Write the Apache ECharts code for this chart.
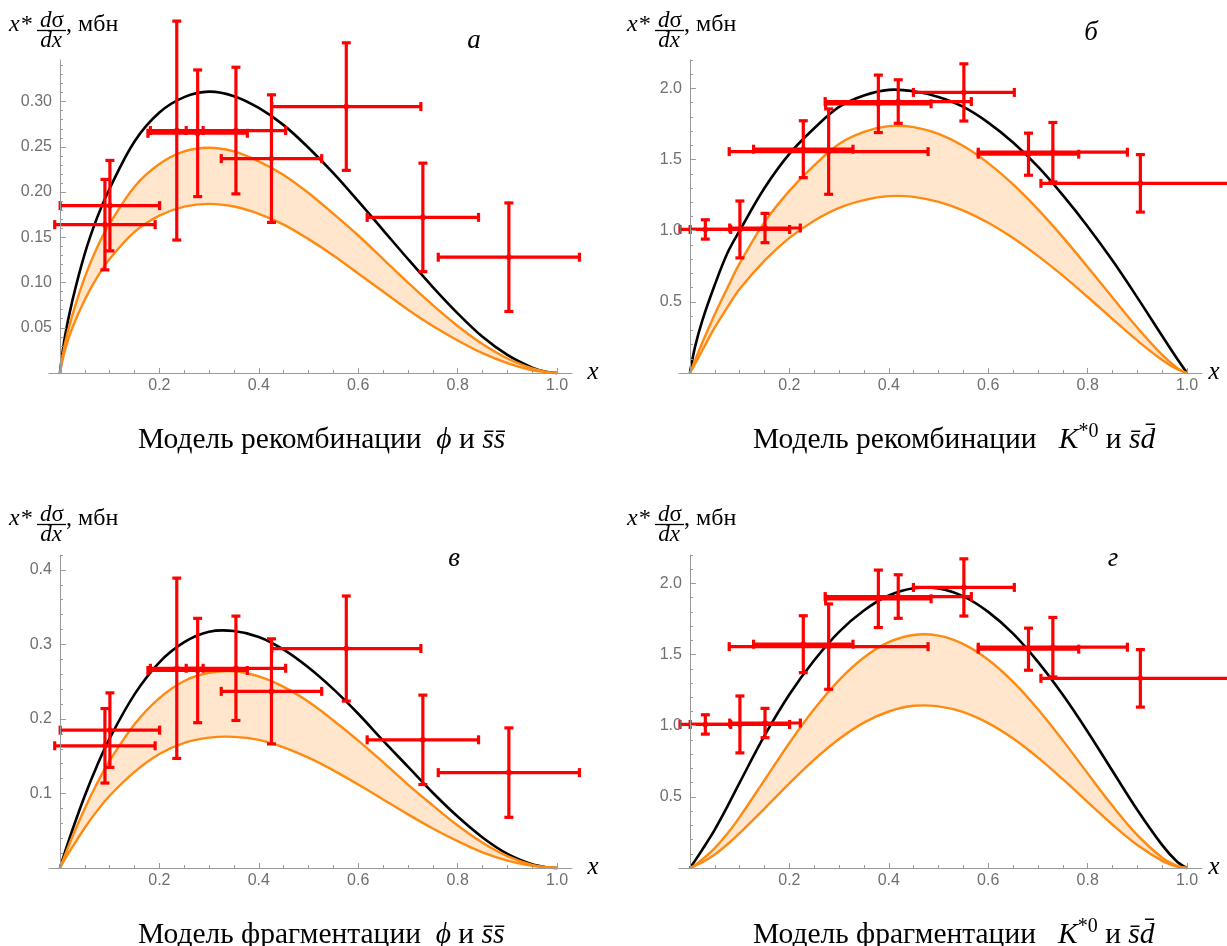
<!DOCTYPE html>
<html>
<head>
<meta charset="utf-8">
<script src="https://cdn.jsdelivr.net/npm/echarts@6.0.0/dist/echarts.min.js"></script>
<style>
  html, body { margin: 0; padding: 0; background: #fff; }
  #chart { width: 1227px; height: 946px; }
</style>
</head>
<body>
<div id="chart"></div>
<script>
const xs = [0, 0.01, 0.025, 0.05, 0.075, 0.1, 0.15, 0.2, 0.25, 0.3, 0.35, 0.4, 0.45,
  0.5, 0.55, 0.6, 0.65, 0.7, 0.75, 0.8, 0.85, 0.9, 0.95, 0.98, 1.0];

// а: рекомбинация, phi
const blackA = [0, 0.040, 0.080, 0.132, 0.172, 0.204, 0.256, 0.288, 0.305, 0.311, 0.306, 0.293, 0.274,
  0.249, 0.221, 0.190, 0.158, 0.126, 0.095, 0.066, 0.040, 0.020, 0.006, 0.001, 0];
const upperA = [0, 0.032, 0.064, 0.106, 0.139, 0.165, 0.206, 0.231, 0.245, 0.249, 0.245, 0.234, 0.219,
  0.199, 0.176, 0.152, 0.126, 0.100, 0.075, 0.052, 0.032, 0.016, 0.005, 0.001, 0];
const lowerA = [0, 0.025, 0.050, 0.081, 0.106, 0.126, 0.156, 0.174, 0.184, 0.187, 0.184, 0.176, 0.164,
  0.148, 0.130, 0.110, 0.090, 0.070, 0.052, 0.036, 0.022, 0.011, 0.003, 0.001, 0];

// б: рекомбинация, K*0
const blackB = [0, 0.18, 0.37, 0.62, 0.84, 1.00, 1.30, 1.54, 1.72, 1.87, 1.95, 1.99, 1.98,
  1.94, 1.87, 1.76, 1.62, 1.45, 1.25, 1.03, 0.79, 0.53, 0.26, 0.10, 0];
const upperB = [0, 0.087, 0.214, 0.413, 0.596, 0.77, 1.06, 1.28, 1.46, 1.61, 1.695, 1.735, 1.728,
  1.680, 1.595, 1.475, 1.325, 1.150, 0.955, 0.745, 0.530, 0.318, 0.127, 0.036, 0];
const lowerB = [0, 0.063, 0.16, 0.32, 0.46, 0.59, 0.79, 0.95, 1.07, 1.16, 1.215, 1.243, 1.238,
  1.203, 1.142, 1.056, 0.949, 0.823, 0.684, 0.534, 0.379, 0.228, 0.091, 0.026, 0];

// в: фрагментация, phi
const blackV = [0, 0.021, 0.051, 0.097, 0.138, 0.174, 0.233, 0.276, 0.303, 0.317, 0.318, 0.310, 0.293,
  0.269, 0.240, 0.207, 0.171, 0.136, 0.101, 0.069, 0.041, 0.019, 0.005, 0.001, 0];
const upperV = [0, 0.017, 0.042, 0.080, 0.114, 0.144, 0.193, 0.228, 0.251, 0.262, 0.264, 0.257, 0.243,
  0.223, 0.198, 0.171, 0.142, 0.112, 0.084, 0.057, 0.034, 0.016, 0.004, 0.001, 0];
const lowerV = [0, 0.012, 0.028, 0.054, 0.077, 0.097, 0.129, 0.153, 0.168, 0.175, 0.176, 0.172, 0.162,
  0.148, 0.131, 0.112, 0.092, 0.072, 0.053, 0.036, 0.021, 0.010, 0.003, 0.001, 0];

// г: фрагментация, K*0
const blackG = [0, 0.05, 0.13, 0.27, 0.43, 0.60, 0.93, 1.22, 1.46, 1.66, 1.81, 1.915, 1.966,
  1.964, 1.909, 1.800, 1.647, 1.449, 1.217, 0.958, 0.682, 0.408, 0.161, 0.044, 0];
const upperG = [0, 0.02, 0.06, 0.14, 0.24, 0.358, 0.618, 0.879, 1.117, 1.321, 1.480, 1.587, 1.638,
  1.633, 1.574, 1.464, 1.308, 1.116, 0.897, 0.665, 0.437, 0.231, 0.072, 0.015, 0];
const lowerG = [0, 0.015, 0.04, 0.095, 0.165, 0.245, 0.418, 0.595, 0.762, 0.907, 1.022, 1.100, 1.140,
  1.136, 1.095, 1.018, 0.910, 0.776, 0.624, 0.463, 0.304, 0.161, 0.050, 0.010, 0];

// experimental points, phi
const phiX = [0.0905, 0.1005, 0.235, 0.277, 0.354, 0.4255, 0.576, 0.730, 0.903];
const phiY = [0.164, 0.185, 0.268, 0.265, 0.268, 0.237, 0.2945, 0.172, 0.128];
const phiXErr = [0.101, 0.100, 0.053, 0.100, 0.100, 0.101, 0.150, 0.112, 0.142];
const phiYErr = [0.050, 0.050, 0.121, 0.070, 0.070, 0.0705, 0.0705, 0.060, 0.060];

// experimental points, K*0
const kX = [0.031, 0.1005, 0.151, 0.228, 0.279, 0.379, 0.419, 0.551, 0.681, 0.730, 0.906];
const kY = [1.009, 1.009, 1.019, 1.573, 1.556, 1.892, 1.908, 1.972, 1.538, 1.552, 1.333];
const kXErr = [0.051, 0.100, 0.071, 0.100, 0.200, 0.106, 0.147, 0.1015, 0.101, 0.150, 0.200];
const kYErr = [0.068, 0.200, 0.103, 0.200, 0.300, 0.202, 0.153, 0.201, 0.148, 0.209, 0.202];

// tick labels
const xMajor = [0.2, 0.4, 0.6, 0.8, 1.0];
const yMajorA = [0.05, 0.10, 0.15, 0.20, 0.25, 0.30];
const yMajorB = [0.5, 1.0, 1.5, 2.0];
const yMajorV = [0.1, 0.2, 0.3, 0.4];
const yMajorG = [0.5, 1.0, 1.5, 2.0];

const X_MIN = -0.022;
const X_MAX = 1.03;
const GRID_W = 523;
const GRID_H = 313;
// the y axis sits at x = 0, a bit right of the grid's left edge
const Y_SHIFT = -(0 - X_MIN) / (X_MAX - X_MIN) * GRID_W;
const AXIS = "#9a9a9a";
const LABEL = "#707070";
const RED = "#ff0000";
const ORANGE = "#ff8a12";
const FILL = "#ffe6cc";
const SMOOTH = 0.35;
const CAP = 4.5;
const SERIF = '"Liberation Serif", "Times New Roman", serif';
const SANS = '"Liberation Sans", Arial, sans-serif';

function ticks(step, max) {
  let res = [];
  for (let k = 1; k * step <= max + 1e-9; k++) {
    res.push(Math.round(k * step * 1000) / 1000);
  }
  return res;
}

function bars(x, y, dx, dy) {
  return x.map((v, i) => [v, y[i], dx[i], dy[i]]);
}

const panels = [
  { left: 49, top: 60, ymax: 0.346, yMajor: yMajorA, yStep: 0.01, digits: 2,
    black: blackA, upper: upperA, lower: lowerA, pts: bars(phiX, phiY, phiXErr, phiYErr) },
  { left: 679, top: 60, ymax: 2.2, yMajor: yMajorB, yStep: 0.1, digits: 1,
    black: blackB, upper: upperB, lower: lowerB, pts: bars(kX, kY, kXErr, kYErr) },
  { left: 49, top: 555, ymax: 0.42, yMajor: yMajorV, yStep: 0.02, digits: 1,
    black: blackV, upper: upperV, lower: lowerV, pts: bars(phiX, phiY, phiXErr, phiYErr) },
  { left: 679, top: 555, ymax: 2.2, yMajor: yMajorG, yStep: 0.1, digits: 1,
    black: blackG, upper: upperG, lower: lowerG, pts: bars(kX, kY, kXErr, kYErr) }
];

// band + three model curves of one panel, all through the axis scales
function curvesRenderer(p) {
  return function (params, api) {
    let pts = arr => xs.map((x, k) => api.coord([x, arr[k]]));
    let up = pts(p.upper);
    let lo = pts(p.lower);
    let band = up.concat(lo.slice(1, -1).reverse());
    let line = (points, color, width) => ({
      type: "polyline", shape: { points: points, smooth: SMOOTH },
      style: { stroke: color, lineWidth: width, fill: null }
    });
    return {
      type: "group",
      children: [
        { type: "polygon", shape: { points: band, smooth: SMOOTH }, style: { fill: FILL } },
        line(pts(p.black), "#000", 2.6),
        line(up, ORANGE, 2.4),
        line(lo, ORANGE, 2.4)
      ]
    };
  };
}

function renderErrorBar(params, api) {
  let x = api.value(0), y = api.value(1), dx = api.value(2), dy = api.value(3);
  let c = api.coord([x, y]);
  let l = api.coord([x - dx, y]);
  let r = api.coord([x + dx, y]);
  let t = api.coord([x, y + dy]);
  let b = api.coord([x, y - dy]);
  let st = { stroke: RED, lineWidth: 3.2 };
  let seg = (x1, y1, x2, y2) => ({ type: "line", shape: { x1, y1, x2, y2 }, style: st });
  return {
    type: "group",
    children: [
      seg(l[0], c[1], r[0], c[1]),
      seg(c[0], t[1], c[0], b[1]),
      seg(l[0], c[1] - CAP, l[0], c[1] + CAP),
      seg(r[0], c[1] - CAP, r[0], c[1] + CAP),
      seg(c[0] - CAP, t[1], c[0] + CAP, t[1]),
      seg(c[0] - CAP, b[1], c[0] + CAP, b[1]),
      { type: "circle", shape: { cx: c[0], cy: c[1], r: 2.8 }, style: { fill: RED } }
    ]
  };
}

const option = {
  animation: false,
  backgroundColor: "#fff",
  grid: [],
  xAxis: [],
  yAxis: [],
  series: [],
  graphic: []
};

panels.forEach((p, i) => {
  option.grid.push({ left: p.left, top: p.top, width: GRID_W, height: GRID_H, containLabel: false, outerBoundsMode: "none" });

  let xBase = { type: "value", gridIndex: i, min: X_MIN, max: X_MAX, position: "bottom", z: 10, splitLine: { show: false } };
  // minor ticks + axis line
  option.xAxis.push(Object.assign({}, xBase, {
    axisLine: { show: true, onZero: false, lineStyle: { color: AXIS, width: 1 } },
    axisTick: { show: true, inside: true, length: 3, customValues: ticks(0.05, 1.0), lineStyle: { color: AXIS } },
    axisLabel: { show: false }
  }));
  // major ticks + labels
  option.xAxis.push(Object.assign({}, xBase, {
    axisLine: { show: false, onZero: false },
    axisTick: { show: true, inside: true, length: 5, customValues: xMajor, lineStyle: { color: AXIS } },
    axisLabel: { show: true, customValues: xMajor, formatter: v => v.toFixed(1), color: LABEL,
      fontSize: 16, fontFamily: SANS, margin: 5 }
  }));

  let yBase = { type: "value", gridIndex: i, min: 0, max: p.ymax, position: "left", offset: Y_SHIFT,
    z: 10, splitLine: { show: false } };
  option.yAxis.push(Object.assign({}, yBase, {
    axisLine: { show: true, onZero: false, lineStyle: { color: AXIS, width: 1 } },
    axisTick: { show: true, inside: true, length: 3, customValues: ticks(p.yStep, p.ymax), lineStyle: { color: AXIS } },
    axisLabel: { show: false }
  }));
  option.yAxis.push(Object.assign({}, yBase, {
    axisLine: { show: false, onZero: false },
    axisTick: { show: true, inside: true, length: 6, customValues: p.yMajor, lineStyle: { color: AXIS } },
    axisLabel: { show: true, customValues: p.yMajor, formatter: v => v.toFixed(p.digits), color: LABEL,
      fontSize: 16, fontFamily: SANS, margin: 8 }
  }));

  let ax = { xAxisIndex: 2 * i, yAxisIndex: 2 * i };
  option.series.push(
    Object.assign({ type: "custom", data: [[0, 0]], renderItem: curvesRenderer(p), silent: true, z: 2 }, ax),
    Object.assign({ type: "custom", data: p.pts, renderItem: renderErrorBar, clip: false, silent: true, z: 4 }, ax)
  );
});

// axis titles: x* dσ/dx, мбн
function yTitle(ox, oy) {
  return [
    { type: "text", x: ox + 9, y: oy + 25, style: { text: "x*", font: "italic 24px " + SERIF, fill: "#000", align: "left", verticalAlign: "middle" } },
    { type: "text", x: ox + 52, y: oy + 20.5, style: { text: "{i|d}{n|σ}", rich: { i: { font: "italic 23px " + SERIF }, n: { font: "23px " + SERIF } },
      font: "23px " + SERIF, fill: "#000", align: "center", verticalAlign: "middle" } },
    { type: "line", shape: { x1: ox + 37, y1: oy + 30.5, x2: ox + 66, y2: oy + 30.5 }, style: { stroke: "#000", lineWidth: 1.3 } },
    { type: "text", x: ox + 51, y: oy + 40.5, style: { text: "dx", font: "italic 23px " + SERIF, fill: "#000", align: "center", verticalAlign: "middle" } },
    { type: "text", x: ox + 66, y: oy + 25, style: { text: ", мбн", font: "24px " + SERIF, fill: "#000", align: "left", verticalAlign: "middle" } }
  ];
}

function plain(text, x, y, size, italic) {
  return { type: "text", x: x, y: y, style: { text: text, font: (italic ? "italic " : "") + size + "px " + SERIF,
    fill: "#000", align: "center", verticalAlign: "middle" } };
}

const richTitle = {
  n: { font: "29.5px " + SERIF, fill: "#000", verticalAlign: "bottom", lineHeight: 38 },
  i: { font: "italic 29.5px " + SERIF, fill: "#000", verticalAlign: "bottom", lineHeight: 38 },
  sup: { font: "20px " + SERIF, fill: "#000", verticalAlign: "bottom", lineHeight: 38, padding: [0, 0, 13, 0] }
};

function subTitle(text, x, y) {
  return { type: "text", x: x, y: y, style: { text: text, rich: richTitle, font: "29.5px " + SERIF,
    fill: "#000", align: "left", verticalAlign: "middle" } };
}

option.graphic = [].concat(
  yTitle(0, 0), yTitle(618, 0), yTitle(0, 494), yTitle(618, 494),
  [
    plain("а", 474, 41, 27, true),
    plain("б", 1091, 33, 27, true),
    plain("в", 454, 559, 27, true),
    plain("г", 1113, 559, 27, true),
    plain("x", 593, 372, 25, true),
    plain("x", 1214, 372, 25, true),
    plain("x", 593, 867, 25, true),
    plain("x", 1214, 867, 25, true),
    subTitle("{n|Модель рекомбинации  }{i|ϕ}{n| и }{i|s\u0304s\u0304}", 138, 436),
    subTitle("{n|Модель рекомбинации   }{i|K}{sup|*0}{n| и }{i|s\u0304d\u0304}", 753, 436),
    subTitle("{n|Модель фрагментации  }{i|ϕ}{n| и }{i|s\u0304s\u0304}", 138, 931),
    subTitle("{n|Модель фрагментации   }{i|K}{sup|*0}{n| и }{i|s\u0304d\u0304}", 753, 931)
  ]
);

let chart = echarts.init(document.getElementById("chart"));
chart.setOption(option);
</script>
</body>
</html>
